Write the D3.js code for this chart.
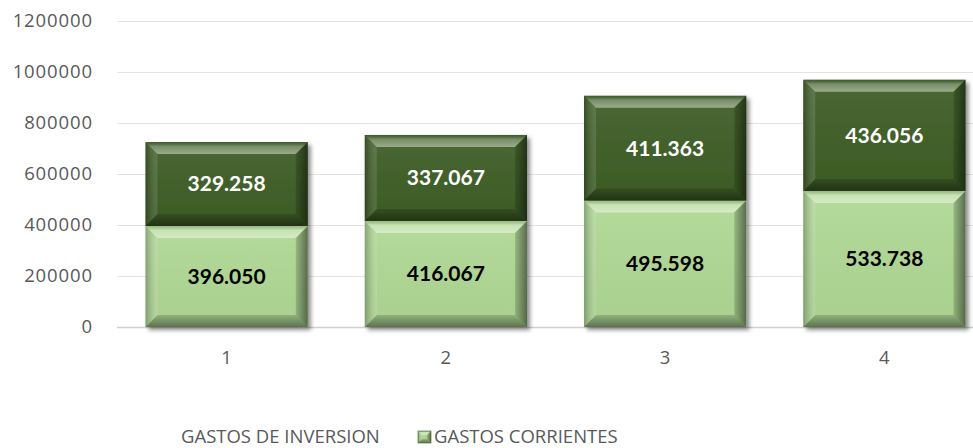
<!DOCTYPE html>
<html>
<head>
<meta charset="utf-8">
<script src="https://cdn.jsdelivr.net/npm/d3@7"></script>
<style>
  html, body { margin: 0; padding: 0; background: #fff; }
  svg { display: block; font-family: "Open Sans", Lato, sans-serif; }
</style>
</head>
<body>
<svg id="chart" width="973" height="448"></svg>
<script>
// Data
const categories = ["1", "2", "3", "4"];
const inversion = [396050, 416067, 495598, 533738];
const corrientes = [329258, 337067, 411363, 436056];
const yTicks = [0, 200000, 400000, 600000, 800000, 1000000, 1200000];
const seriesNames = ["GASTOS DE INVERSION", "GASTOS CORRIENTES"];

const W = 973, H = 448;
const svg = d3.select("#chart");

const x = d3.scaleBand().domain(categories).range([117, 994])
  .paddingInner(0.26).paddingOuter(0.13);
const y = d3.scaleLinear().domain([0, 1200000]).range([327, 21]);

const fmt = v => d3.format(",")(v).replace(/,/g, ".");

const defs = svg.append("defs");
const sh = defs.append("filter").attr("id", "shadow")
  .attr("x", "-10%").attr("y", "-10%").attr("width", "130%").attr("height", "130%");
sh.append("feDropShadow").attr("dx", 3).attr("dy", 3)
  .attr("stdDeviation", 2.2).attr("flood-color", "#000").attr("flood-opacity", 0.45);

function grad(id, x1, y1, x2, y2, stops) {
  const g = defs.append("linearGradient").attr("id", id)
    .attr("x1", x1).attr("y1", y1).attr("x2", x2).attr("y2", y2);
  stops.forEach(s => g.append("stop").attr("offset", s[0])
    .attr("stop-color", s[1]).attr("stop-opacity", s[2]));
}
// Bevel facet shading
grad("gTop", 0, 0, 0, 1, [[0, "#000", 0.15], [0.35, "#fff", 0.25], [1, "#fff", 0.45]]);
grad("gBottom", 0, 0, 0, 1, [[0, "#000", 0.15], [1, "#000", 0.45]]);
grad("gLeft", 0, 0, 1, 0, [[0, "#000", 0.25], [1, "#fff", 0.12]]);
grad("gRight", 0, 0, 1, 0, [[0, "#000", 0.15], [1, "#000", 0.5]]);
grad("gFace", 0, 0, 0, 1, [[0, "#fff", 0.06], [1, "#000", 0.04]]);

// Gridlines
svg.append("g").selectAll("line").data(yTicks).join("line")
  .attr("x1", 117).attr("x2", W)
  .attr("y1", d => Math.round(y(d)) + 0.5).attr("y2", d => Math.round(y(d)) + 0.5)
  .attr("stroke", d => d === 0 ? "#d0d0d0" : "#e3e3e3").attr("stroke-width", d => d === 0 ? 1.5 : 1);

// Y axis labels
svg.append("g").selectAll("text").data(yTicks).join("text")
  .attr("x", 93).attr("y", d => y(d)).attr("dy", "0.35em")
  .attr("text-anchor", "end").attr("font-size", 18.5).attr("letter-spacing", 0.9).attr("fill", "#595959")
  .text(d => d);

// X axis labels
svg.append("g").selectAll("text").data(categories).join("text")
  .attr("x", d => x(d) + x.bandwidth() / 2).attr("y", 358).attr("dy", "0.35em")
  .attr("text-anchor", "middle").attr("font-size", 18.5).attr("fill", "#595959")
  .text(d => d);

function bevelBar(g, bx, by, bw, bh, fill, b) {
  b = Math.min(b, bh / 2, bw / 2);
  const grp = g.append("g");
  grp.append("rect").attr("x", bx).attr("y", by).attr("width", bw).attr("height", bh).attr("fill", fill);
  grp.append("rect").attr("x", bx).attr("y", by).attr("width", bw).attr("height", bh).attr("fill", "url(#gFace)");
  const P = pts => pts.map(p => p.join(",")).join(" ");
  grp.append("polygon").attr("points", P([[bx, by], [bx + bw, by], [bx + bw - b, by + b], [bx + b, by + b]])).attr("fill", "url(#gTop)");
  grp.append("polygon").attr("points", P([[bx, by + bh], [bx + bw, by + bh], [bx + bw - b, by + bh - b], [bx + b, by + bh - b]])).attr("fill", "url(#gBottom)");
  grp.append("polygon").attr("points", P([[bx, by], [bx + b, by + b], [bx + b, by + bh - b], [bx, by + bh]])).attr("fill", "url(#gLeft)");
  grp.append("polygon").attr("points", P([[bx + bw, by], [bx + bw - b, by + b], [bx + bw - b, by + bh - b], [bx + bw, by + bh]])).attr("fill", "url(#gRight)");
}

const lightGreen = "#b0d995";
const darkGreen = "#3f5f27";

// Stacked bars
const bars = svg.append("g");
categories.forEach((c, i) => {
  const g = bars.append("g").attr("filter", "url(#shadow)");
  const bx = x(c), bw = x.bandwidth();
  const y0 = y(0), y1 = y(inversion[i]), y2 = y(inversion[i] + corrientes[i]);
  bevelBar(g, bx, y1, bw, y0 - y1, lightGreen, 12);
  bevelBar(g, bx, y2, bw, y1 - y2, darkGreen, 12);
});

// Value labels centered in each segment
const labels = svg.append("g").attr("font-family", "Lato, sans-serif")
  .attr("font-weight", "bold").attr("font-size", 21).attr("text-anchor", "middle");
categories.forEach((c, i) => {
  const cx = x(c) + x.bandwidth() / 2;
  labels.append("text").attr("x", cx).attr("y", y(inversion[i] / 2)).attr("dy", "0.35em")
    .attr("fill", "#000").text(fmt(inversion[i]));
  labels.append("text").attr("x", cx).attr("y", y(inversion[i] + corrientes[i] / 2)).attr("dy", "0.35em")
    .attr("fill", "#fff").text(fmt(corrientes[i]));
});

// Legend
const lg = svg.append("g").attr("font-size", 18.5).attr("fill", "#595959");
lg.append("text").attr("x", 181).attr("y", 437).attr("dy", "0.35em").text(seriesNames[0]);
const mk = lg.append("g");
bevelBar(mk, 418, 431, 13, 12, lightGreen, 4);
mk.append("rect").attr("x", 418).attr("y", 431).attr("width", 13).attr("height", 12)
  .attr("fill", "none").attr("stroke", darkGreen).attr("stroke-width", 1).attr("opacity", 0.6);
lg.append("text").attr("x", 434).attr("y", 437).attr("dy", "0.35em").text(seriesNames[1]);
</script>
</body>
</html>
